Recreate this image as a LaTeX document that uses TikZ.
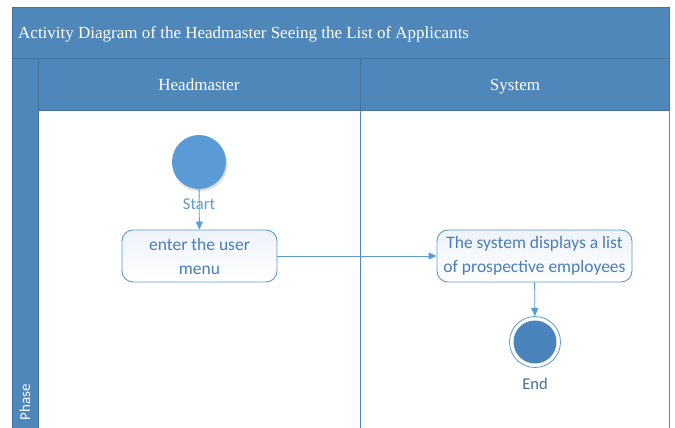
\documentclass[tikz,border=0pt]{standalone}
\usepackage{fontspec}
\setmainfont{Liberation Serif}
\newfontfamily\boxfont{Carlito}
\usetikzlibrary{arrows.meta}

\definecolor{headblue}{HTML}{4F87BB}
\definecolor{edgeblue}{HTML}{41719C}
\definecolor{flowblue}{HTML}{5B9BD5}
\definecolor{textblue}{HTML}{4A7DBA}
\definecolor{endblue}{HTML}{4A84BD}
\definecolor{paleblue}{HTML}{EEF3FA}

\tikzset{
  header/.style={fill=headblue, draw=edgeblue, line width=0.8pt},
  headtext/.style={text=white, font=\fontsize{17}{20}\selectfont, anchor=base},
  action/.style={draw=flowblue, line width=0.9pt, rounded corners=11pt,
    top color=paleblue, bottom color=white, minimum width=155pt, minimum height=52pt,
    align=center, text=textblue, font=\boxfont\fontsize{17.5}{24}\selectfont, inner sep=0pt},
  flow/.style={draw=flowblue, line width=0.9pt, -{Triangle[length=8pt,width=7pt]}}
}

\begin{document}
\begin{tikzpicture}[x=1pt,y=-1pt]
\useasboundingbox (0,0) rectangle (675,428);
   % Frame, title band and lane headers
\coordinate (TL) at (12,7);
\coordinate (BR) at (669,428);

\fill[white] (TL) rectangle (BR);
\draw[header] (12,7) rectangle (669,58);
\draw[header] (12,58) rectangle (38,428);
\draw[header] (38,58) rectangle (360,110);
\draw[header] (360,58) rectangle (669,110);
\draw[headblue, line width=0.8pt] (360,110) -- (360,428);
\draw[headblue, line width=0.8pt] (669,110) -- (669,428);

\node[headtext, anchor=base west, inner sep=0pt] (title) at (18,39) {Activity Diagram of the Headmaster Seeing the List of Applicants};
\node[headtext] (hm) at (199,91) {Headmaster};
\node[headtext] (sys) at (515,91) {System};
\node[rotate=90, anchor=west, text=white, font=\boxfont\fontsize{15}{18}\selectfont] (phase) at (25,424) {Phase};

   % Activity flow
\fill[black!12] (200,164) circle[radius=27.5pt];
\node[circle, fill=flowblue, minimum size=54pt, inner sep=0pt] (start) at (199,162) {};
\node[text=flowblue, font=\boxfont\fontsize{16.5}{18}\selectfont] (startlbl) at (199,204) {Start};

\node[action] (enter) at (199.5,256) {enter the user\\menu};
\node[action, minimum width=195pt] (show) at (534.5,256) {The system displays a list\\of prospective employees};

\node[circle, draw=flowblue, fill=white, line width=0.8pt, minimum size=51pt, inner sep=0pt] (stop) at (535,342) {};
\fill[endblue] (stop) circle[radius=21.5pt];
\node[text=edgeblue, font=\boxfont\fontsize{16.5}{18}\selectfont] (stoplbl) at (535,384) {End};

\draw[flow] (start) -- (enter);
\draw[flow] (enter) -- (show);
\draw[flow] (show) -- (stop);
\end{tikzpicture}
\end{document}
